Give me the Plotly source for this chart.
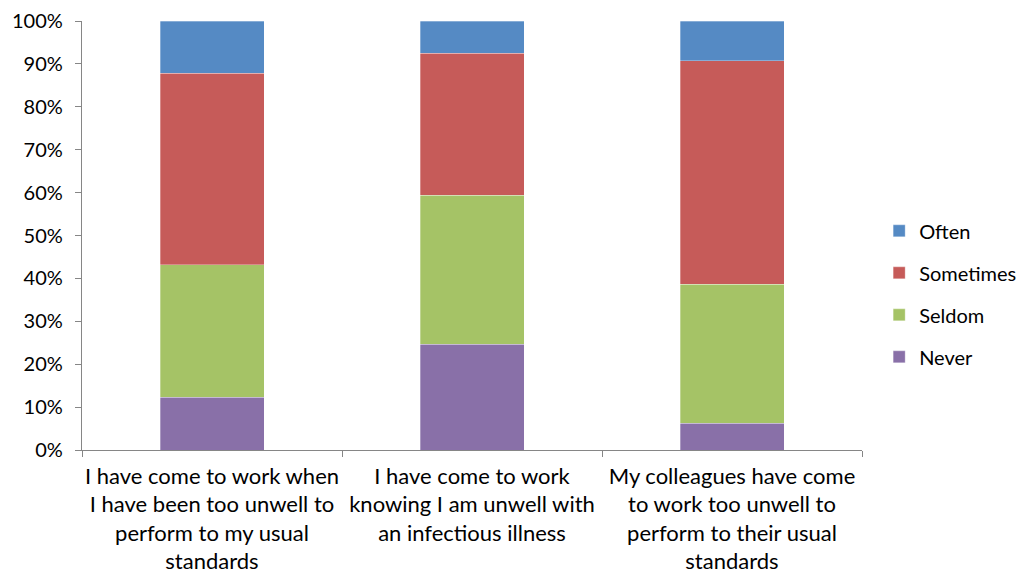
import plotly.graph_objects as go

categories = [
    "I have come to work when<br>I have been too unwell to<br>perform to my usual<br>standards",
    "I have come to work<br>knowing I am unwell with<br>an infectious illness",
    "My colleagues have come<br>to work too unwell to<br>perform to their usual<br>standards",
]
never = [12.3, 24.7, 6.2]
seldom = [30.9, 34.7, 32.4]
sometimes = [44.6, 33.1, 52.1]
often = [12.2, 7.5, 9.3]

series = [
    ("Never", never, "#8970A8"),
    ("Seldom", seldom, "#A5C366"),
    ("Sometimes", sometimes, "#C65B59"),
    ("Often", often, "#558AC4"),
]

FONT = "Lato"
fig = go.Figure()
for i, (name, vals, col) in enumerate(series):
    fig.add_trace(go.Bar(
        x=categories, y=vals, name=name, legendgroup=name,
        legendrank=1000 - i,
        marker=dict(color=col, line=dict(width=0.6, color="rgba(255,255,255,0.5)")),
    ))

fig.update_layout(
    barmode="stack",
    bargap=0.6,
    width=1025, height=574,
    margin=dict(l=82, r=163, t=21, b=124, autoexpand=False),
    plot_bgcolor="white", paper_bgcolor="white",
    font=dict(family=FONT, size=20, color="#000000"),
    legend=dict(
        x=1.022, y=0.364, xanchor="left", yanchor="middle",
        traceorder="grouped", tracegroupgap=13,
        font=dict(family=FONT, size=20, color="#000000"),
        itemwidth=30,
    ),
    showlegend=True,
)
fig.update_yaxes(
    range=[0, 100], dtick=10, ticksuffix="%",
    showgrid=False, showline=True, linecolor="#868686", linewidth=1.3,
    ticks="outside", ticklen=6, tickcolor="#868686",
    tickfont=dict(family=FONT, size=20, color="#000000"),
    ticklabelstandoff=8,
    zeroline=False,
)
fig.update_xaxes(
    showgrid=False, showline=True, linecolor="#868686", linewidth=1.3,
    ticks="outside", ticklen=6, tickcolor="#868686", tickson="boundaries",
    tickfont=dict(family=FONT, size=22, color="#000000"),
    ticklabelstandoff=6,
    tickangle=0,
)

fig.write_html("out.html")
